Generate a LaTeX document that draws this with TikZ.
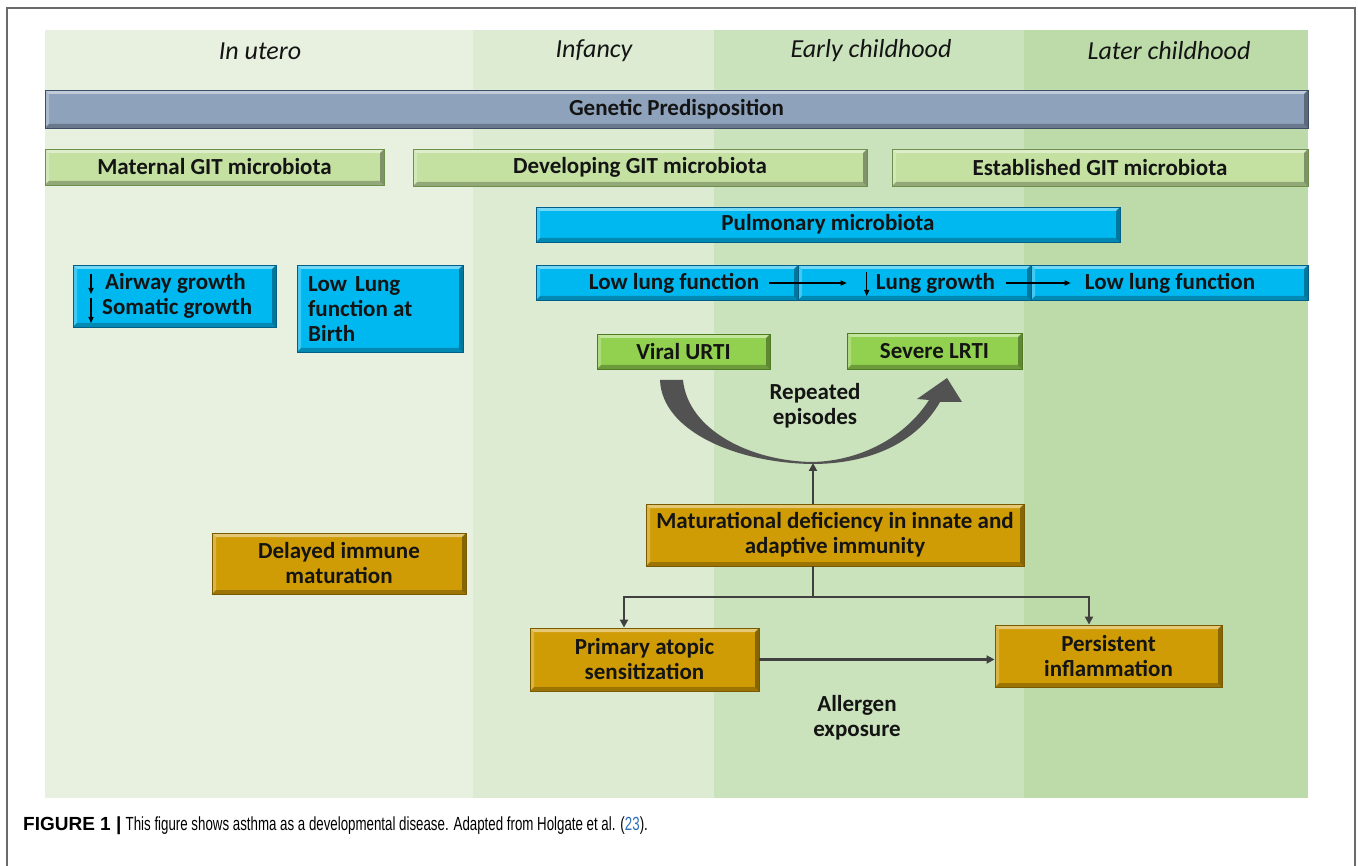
\documentclass[tikz,border=0pt]{standalone}
\usepackage{fontspec}
\setmainfont{Carlito}
\newfontfamily\capfont[FakeStretch=0.70]{Liberation Sans}
\newfontfamily\capbold{Liberation Sans Bold}
\usetikzlibrary{arrows.meta}
\definecolor{cA}{HTML}{E8F1E0}
\definecolor{cB}{HTML}{DCEBD2}
\definecolor{cC}{HTML}{CAE3BC}
\definecolor{cD}{HTML}{BCDBA9}
\definecolor{genfill}{HTML}{8EA2BC}
\definecolor{gendraw}{HTML}{3E4E66}
\definecolor{gitfill}{HTML}{C4E1A2}
\definecolor{gitdraw}{HTML}{6E8E4C}
\definecolor{cyfill}{HTML}{00B8F0}
\definecolor{cydraw}{HTML}{005E88}
\definecolor{vgfill}{HTML}{92D050}
\definecolor{vgdraw}{HTML}{4E7A22}
\definecolor{gdfill}{HTML}{CF9C06}
\definecolor{gddraw}{HTML}{7A5A00}
\definecolor{lnc}{HTML}{404040}
\definecolor{txt}{HTML}{141414}
\definecolor{curvec}{HTML}{525252}
\definecolor{frm}{HTML}{6A6A6A}
\definecolor{linkblue}{HTML}{2F6FB8}
\newcommand\bevelpic{%
 \fill[white,opacity=0.45] (path picture bounding box.north west) -- (path picture bounding box.north east) -- ([shift={(-4pt,-4pt)}]path picture bounding box.north east) -- ([shift={(4pt,-4pt)}]path picture bounding box.north west) -- cycle;
 \fill[white,opacity=0.25] (path picture bounding box.north west) -- (path picture bounding box.south west) -- ([shift={(4pt,4pt)}]path picture bounding box.south west) -- ([shift={(4pt,-4pt)}]path picture bounding box.north west) -- cycle;
 \fill[black,opacity=0.35] (path picture bounding box.north east) -- (path picture bounding box.south east) -- ([shift={(-4pt,4pt)}]path picture bounding box.south east) -- ([shift={(-4pt,-4pt)}]path picture bounding box.north east) -- cycle;
 \fill[black,opacity=0.25] (path picture bounding box.south west) -- (path picture bounding box.south east) -- ([shift={(-4pt,4pt)}]path picture bounding box.south east) -- ([shift={(4pt,4pt)}]path picture bounding box.south west) -- cycle;}
\tikzset{
 bx/.style 2 args={draw=#2, fill=#1, line width=0.9pt, inner sep=0pt, text=txt,
   font=\fontsize{23}{25}\selectfont\bfseries, align=center, path picture={\bevelpic}},
 gen/.style={bx={genfill}{gendraw}},
 git/.style={bx={gitfill}{gitdraw}},
 cyb/.style={bx={cyfill}{cydraw}},
 vgb/.style={bx={vgfill}{vgdraw}},
 gdb/.style={bx={gdfill}{gddraw}},
 lbl/.style={inner sep=0pt, text=txt, font=\fontsize{23}{25}\selectfont\bfseries, align=center},
 hdr/.style={inner sep=0pt, text=txt, font=\fontsize{26}{30}\selectfont\itshape},
 arr/.style={draw=lnc, line width=2.4pt, -{Triangle[length=8pt,width=8pt]}},
 ln/.style={draw=lnc, line width=2.4pt},
 thinarr/.style={draw=black, line width=1.2pt, -{Triangle[length=6pt,width=5pt]}},
}
\begin{document}
\begin{tikzpicture}[x=1pt,y=-1pt]
\useasboundingbox (0,0) rectangle (1358,866);
\fill[white] (0,0) rectangle (1358,866);
\draw[frm, line width=1.3pt] (7,866) -- (7,8) -- (1355,8) -- (1355,866);
% period columns
\fill[cA] (45,30) rectangle (473,798);
\fill[cB] (473,30) rectangle (714,798);
\fill[cC] (714,30) rectangle (1024,798);
\fill[cD] (1024,30) rectangle (1308,798);
\node[hdr] (h1) at (260,51) {In utero};
\node[hdr] (h2) at (594,51) {Infancy};
\node[hdr] (h3) at (871,51) {Early childhood};
\node[hdr] (h4) at (1169,51) {Later childhood};
% bars
\node[gen, minimum width=1263pt, minimum height=38pt] (gp) at (676.5,109) {Genetic Predisposition};
\node[git, minimum width=339pt, minimum height=36pt] (mat1) at (214.5,167) {Maternal GIT microbiota};
\node[git, minimum width=454pt, minimum height=37pt] (dev) at (640,167.5) {Developing GIT microbiota};
\node[git, minimum width=416pt, minimum height=37pt] (est) at (1100,167.5) {Established GIT microbiota};
\node[cyb, minimum width=584pt, minimum height=35pt] (pm) at (828,224.5) {Pulmonary microbiota};
% lung function row
\node[cyb, minimum width=262pt, minimum height=35pt] (s1) at (667,282.5) {};
\node[cyb, minimum width=233pt, minimum height=35pt] (s2) at (914.5,282.5) {};
\node[cyb, minimum width=277pt, minimum height=35pt] (s3) at (1169.5,282.5) {};
\node[lbl] (t1) at (674,283) {Low lung function};
\node[lbl] (t2) at (935.5,283) {Lung growth};
\node[lbl] (t3) at (1170,283) {Low lung function};
\draw[thinarr, shorten <=10pt, shorten >=29pt] (t1.east) -- (t2.west);
\draw[thinarr, shorten <=11pt, shorten >=14pt] (t2.east) -- (t3.west);
\draw[thinarr] ([xshift=-9pt]t2.west |- 0,272) -- ([xshift=-9pt]t2.west |- 0,296);
% left blue boxes
\node[cyb, minimum width=203pt, minimum height=62pt] (bA) at (174.5,296) {};
\node[lbl, anchor=west] (aw) at (105,283) {Airway growth};
\node[lbl, anchor=west] (sg) at (102,308) {Somatic growth};
\draw[thinarr] ([xshift=-14pt]aw.west |- 0,274) -- ([xshift=-14pt]aw.west |- 0,294);
\draw[thinarr] ([xshift=-11pt]sg.west |- 0,298) -- ([xshift=-11pt]sg.west |- 0,323);
\node[cyb, minimum width=166pt, minimum height=87pt] (bB) at (380,308.5) {};
\node[lbl, anchor=west, align=left] (bBt) at (308,309) {Low\hspace{8pt}Lung\\function at\\Birth};
% infections
\node[vgb, minimum width=173pt, minimum height=35pt] (vu) at (683.5,351.5) {Viral URTI};
\node[vgb, minimum width=175pt, minimum height=36pt] (sl) at (934.5,351) {Severe LRTI};
\fill[curvec] (660,380) .. controls (662,432) and (738,463) .. (812,464)
  .. controls (868,464) and (916,444) .. (940,402)
  -- (962,402) -- (947,378) -- (917,399) -- (929,400)
  .. controls (906,436) and (862,461) .. (812,462)
  .. controls (750,461) and (688,430) .. (683,380) -- cycle;
\node[lbl] (rep) at (815,406) {Repeated\\episodes};
% immunity
\node[gdb, minimum width=378pt, minimum height=62pt] (md) at (835,535) {Maturational deficiency in innate and\\adaptive immunity};
\node[gdb, minimum width=254pt, minimum height=61pt] (dim) at (339,563.5) {Delayed immune\\maturation};
\node[gdb, minimum width=229pt, minimum height=63pt] (pas) at (644.5,659.5) {Primary atopic\\sensitization};
\node[gdb, minimum width=227pt, minimum height=62pt] (pin) at (1108.5,656) {Persistent\\inflammation};
\coordinate (cb) at (813,463);
\coordinate (br) at (813,597);
\draw[arr] (cb |- md.north) -- (cb);
\draw[ln] (cb |- md.south) -- (br);
\draw[arr] (br) -| ([xshift=-20.5pt]pas.north);
\draw[arr] (br) -| ([xshift=-19.5pt]pin.north);
\draw[arr] (pas.east) -- (pas.east -| pin.west);
\node[lbl] (ae) at (857,718) {Allergen\\exposure};
% caption
\node[anchor=base west, inner sep=0pt, text=black] (cap) at (23,830) {\fontsize{19}{22}\selectfont{\capbold FIGURE 1 |} {\capfont This figure shows asthma as a developmental disease. Adapted from Holgate et al. (\textcolor{linkblue}{23}).}};
\end{tikzpicture}
\end{document}
